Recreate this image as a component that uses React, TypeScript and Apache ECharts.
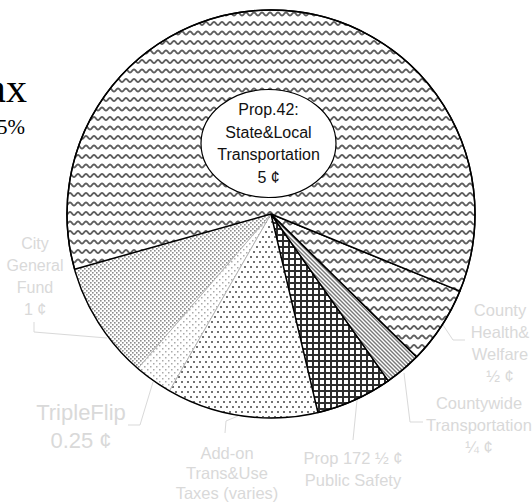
import React, { useEffect, useRef } from "react";
import * as echarts from "echarts";

// Slices listed counter-clockwise, starting with City General Fund
const sliceLabels = [
  "City\nGeneral\nFund\n1 ¢",
  "TripleFlip\n0.25 ¢",
  "Add-on\nTrans&Use\nTaxes (varies)",
  "Prop 172 ½ ¢\nPublic Safety",
  "Countywide\nTransportation\n¼ ¢",
  "County\nHealth&\nWelfare\n½ ¢",
  "Prop.42:\nState&Local\nTransportation\n5 ¢",
];
const sliceValues = [0.77, 0.25, 0.99, 0.5, 0.24, 0.51, 5.0];
const titleLines = ["ax", "5%"];

const PIE_CX = 271;
const PIE_CY = 214;
const PIE_R = 204;
const LABEL_COLOR = "#d9d9d9";

function makeTile(w: number, h: number, draw: (ctx: CanvasRenderingContext2D) => void) {
  const c = document.createElement("canvas");
  c.width = w;
  c.height = h;
  const ctx = c.getContext("2d")!;
  ctx.fillStyle = "#ffffff";
  ctx.fillRect(0, 0, w, h);
  draw(ctx);
  return { image: c, repeat: "repeat", imageWidth: w, imageHeight: h } as any;
}

function wavePattern() {
  return makeTile(8, 19, (ctx) => {
    ctx.strokeStyle = "#5e5e5e";
    ctx.lineWidth = 1.9;
    for (const base of [4.5, 14]) {
      ctx.beginPath();
      for (let x = -1; x <= 9; x += 0.5) {
        const y = base + 1.6 * Math.sin((2 * Math.PI * x) / 8);
        if (x === -1) ctx.moveTo(x, y);
        else ctx.lineTo(x, y);
      }
      ctx.stroke();
    }
  });
}

function stripePattern() {
  return makeTile(4, 4, (ctx) => {
    ctx.strokeStyle = "#7a7a7a";
    ctx.lineWidth = 1.4;
    for (const x of [-4, 0, 4]) {
      ctx.beginPath();
      ctx.moveTo(x - 1, -1);
      ctx.lineTo(x + 5, 5);
      ctx.stroke();
    }
  });
}

function gridPattern() {
  return makeTile(6, 6, (ctx) => {
    ctx.fillStyle = "#2e2e2e";
    ctx.fillRect(0, 0, 6, 2);
    ctx.fillRect(0, 0, 2, 6);
  });
}

function dotPattern(w: number, h: number, pts: number[][], size: number, color: string) {
  return makeTile(w, h, (ctx) => {
    ctx.fillStyle = color;
    for (const [x, y] of pts) ctx.fillRect(x, y, size, size);
  });
}

const labelLayouts: any[] = [
  { x: 35, y: 320, align: "center", verticalAlign: "bottom", pts: [[107, 338], [34, 332], [34, 322]], lh: 22, fs: 16 },
  { x: 81, y: 426, align: "center", verticalAlign: "middle", pts: [[153, 382], [140, 425], [128, 425]], lh: 28, fs: 22 },
  { x: 227, y: 473, align: "center", verticalAlign: "middle", pts: [[238, 416], [226, 421], [225, 433]], lh: 20, fs: 16.5 },
  { x: 353, y: 469, align: "center", verticalAlign: "middle", pts: [[357, 400], [355, 420], [353, 440]], lh: 22, fs: 16.5 },
  { x: 479, y: 425, align: "center", verticalAlign: "middle", pts: [[404, 373], [410, 422], [423, 422]], lh: 22, fs: 16.5 },
  { x: 500, y: 343, align: "center", verticalAlign: "middle", pts: [[443, 325], [453, 340], [465, 340]], lh: 22, fs: 16.5 },
  null,
];

export default function App() {
  const ref = useRef<HTMLDivElement>(null);

  useEffect(() => {
    document.body.style.margin = "0";
    if (!ref.current) return;
    const chart = echarts.init(ref.current, null, { renderer: "svg" });

    const fills = [
      dotPattern(4, 4, [[0, 0], [2, 2]], 1.6, "#8c8c8c"),
      dotPattern(6, 6, [[0, 0], [3, 3]], 1.5, "#aaaaaa"),
      dotPattern(6, 10, [[1, 1], [4, 6]], 2, "#727272"),
      gridPattern(),
      stripePattern(),
      wavePattern(),
      wavePattern(),
    ];
    const borders = ["#b5b5b5", "#b5b5b5", "#b5b5b5", "#000", "#000", "#000", "#000"];
    const borderWidths = [1, 1, 1, 1.5, 1.5, 1.5, 1.5];

    const data = sliceValues.map((v, i) => ({
      value: v,
      name: sliceLabels[i],
      itemStyle: { color: fills[i], borderColor: borders[i], borderWidth: borderWidths[i] },
      label: labelLayouts[i]
        ? { show: true, lineHeight: labelLayouts[i].lh, fontSize: labelLayouts[i].fs }
        : { show: false },
      labelLine: { show: !!labelLayouts[i] },
    }));

    const centerIdx = sliceLabels.length - 1;

    chart.setOption({
      animation: false,
      series: [
        {
          type: "pie",
          center: [PIE_CX, PIE_CY],
          radius: PIE_R,
          startAngle: 195.7,
          clockwise: false,
          silent: true,
          avoidLabelOverlap: false,
          minShowLabelAngle: 0,
          emphasis: { disabled: true },
          label: {
            position: "outer",
            alignTo: "none",
            color: LABEL_COLOR,
            fontFamily: "Liberation Sans, Arial, sans-serif",
            formatter: (p: any) => p.name,
          },
          labelLine: { lineStyle: { color: LABEL_COLOR, width: 1 } },
          labelLayout: (params: any) => {
            const L = labelLayouts[params.dataIndex];
            if (!L) return {};
            return {
              x: L.x,
              y: L.y,
              align: L.align,
              verticalAlign: L.verticalAlign,
              labelLinePoints: L.pts,
            };
          },
          data,
        },
      ],
      graphic: [
        {
          type: "circle",
          z: 50,
          silent: true,
          shape: { cx: PIE_CX, cy: PIE_CY, r: PIE_R },
          style: { fill: "none", stroke: "#000", lineWidth: 1.4 },
        },
        {
          type: "ellipse",
          z: 60,
          silent: true,
          shape: { cx: 268.5, cy: 143.5, rx: 67.5, ry: 54 },
          style: { fill: "#fff", stroke: "#000", lineWidth: 1.2 },
        },
        {
          type: "text",
          z: 61,
          silent: true,
          x: 268.5,
          y: 143.5,
          style: {
            text: sliceLabels[centerIdx],
            fill: "#111",
            font: '16px "Liberation Sans", Arial, sans-serif',
            lineHeight: 22.5,
            align: "center",
            verticalAlign: "middle",
          },
        },
        {
          type: "text",
          z: 61,
          silent: true,
          x: 27,
          y: 88,
          style: {
            text: titleLines[0],
            fill: "#000",
            font: '42px "Liberation Serif", "Times New Roman", serif',
            align: "right",
            verticalAlign: "middle",
          },
        },
        {
          type: "text",
          z: 61,
          silent: true,
          x: 25,
          y: 127,
          style: {
            text: titleLines[1],
            fill: "#000",
            font: '21px "Liberation Serif", "Times New Roman", serif',
            align: "right",
            verticalAlign: "middle",
          },
        },
      ],
    });

    return () => chart.dispose();
  }, []);

  return <div ref={ref} style={{ width: 532, height: 504 }} />;
}
